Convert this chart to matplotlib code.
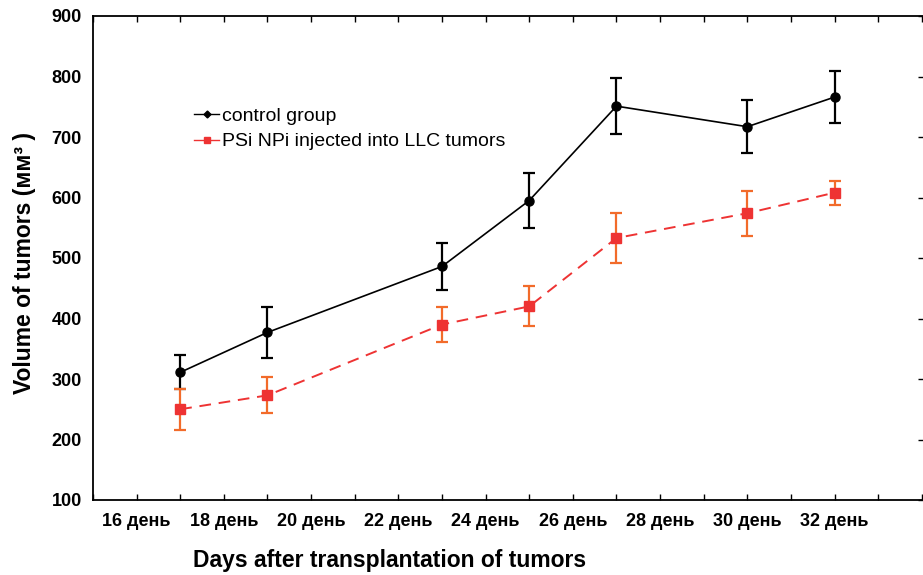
import matplotlib
matplotlib.use("Agg")
import matplotlib.pyplot as plt

plt.rcParams['font.family'] = ['Liberation Sans', 'DejaVu Sans']

# days after transplantation
days = [17, 19, 23, 25, 27, 30, 32]

# control group
control_mean = [311, 377, 486, 595, 751, 717, 766]
control_err = [28, 42, 39, 46, 46, 44, 43]

# PSi NPi injected group
psi_mean = [250, 273, 390, 420, 533, 574, 608]
psi_err = [34, 30, 29, 33, 41, 37, 20]

tick_days = list(range(15, 35))
label_days = [16, 18, 20, 22, 24, 26, 28, 30, 32]
y_ticks = [100, 200, 300, 400, 500, 600, 700, 800, 900]

fig = plt.figure(figsize=(9.23, 5.75), dpi=100)
ax = fig.add_axes([93 / 923, 75 / 575, 831 / 923, 484 / 575])

# error bars first, lines on top
ax.errorbar(days, control_mean, yerr=control_err, fmt='none', ecolor='black',
            elinewidth=1.6, capsize=4, capthick=1.6, zorder=2)
ax.errorbar(days, psi_mean, yerr=psi_err, fmt='none', ecolor='#f26b2a',
            elinewidth=1.6, capsize=4, capthick=1.6, zorder=2)

ax.plot(days, control_mean, color='black', lw=1.2, marker='o', ms=6.5,
        zorder=3)
ax.plot(days, psi_mean, color='#ee3333', lw=1.4, ls=(0, (6, 4)),
        marker='s', ms=6.5, mfc='#ee3333', mec='#ee3333', zorder=3)

# legend proxies
h1, = ax.plot([], [], color='black', lw=1, marker='D', ms=3.5)
h2, = ax.plot([], [], color='#ee3333', lw=1, marker='s', ms=5)
ax.legend([h1, h2], ['control group', 'PSi NPi injected into LLC tumors'],
          loc='upper left', bbox_to_anchor=(0.122, 0.812), frameon=False,
          fontsize=14, handlelength=1.25, handletextpad=0.15,
          labelspacing=0.42, borderaxespad=0, borderpad=0)

ax.set_xlim(15, 34.05)
ax.set_ylim(100, 900)

ax.set_xticks(tick_days)
ax.set_xticklabels([f'{d} день' if d in label_days else '' for d in tick_days])
ax.set_yticks(y_ticks)

ax.tick_params(axis='x', direction='in', top=True, bottom=True, length=4,
               width=1, pad=9, labelsize=13)
ax.tick_params(axis='y', direction='in', left=False, right=True, length=4,
               width=1, pad=8, labelsize=13)
for lab in ax.get_xticklabels() + ax.get_yticklabels():
    lab.set_fontweight('bold')

for side in ['left', 'bottom', 'top', 'right']:
    ax.spines[side].set_linewidth(1.3)

fig.text(25 / 923, 1 - 263 / 575, 'Volume of tumors (мм³ )', rotation=90,
         ha='center', va='center', fontsize=16.5, fontweight='bold')
fig.text(390 / 923, 1 - 560 / 575, 'Days after transplantation of tumors',
         ha='center', va='center', fontsize=16.5, fontweight='bold')

fig.savefig('out.png', dpi=100)
